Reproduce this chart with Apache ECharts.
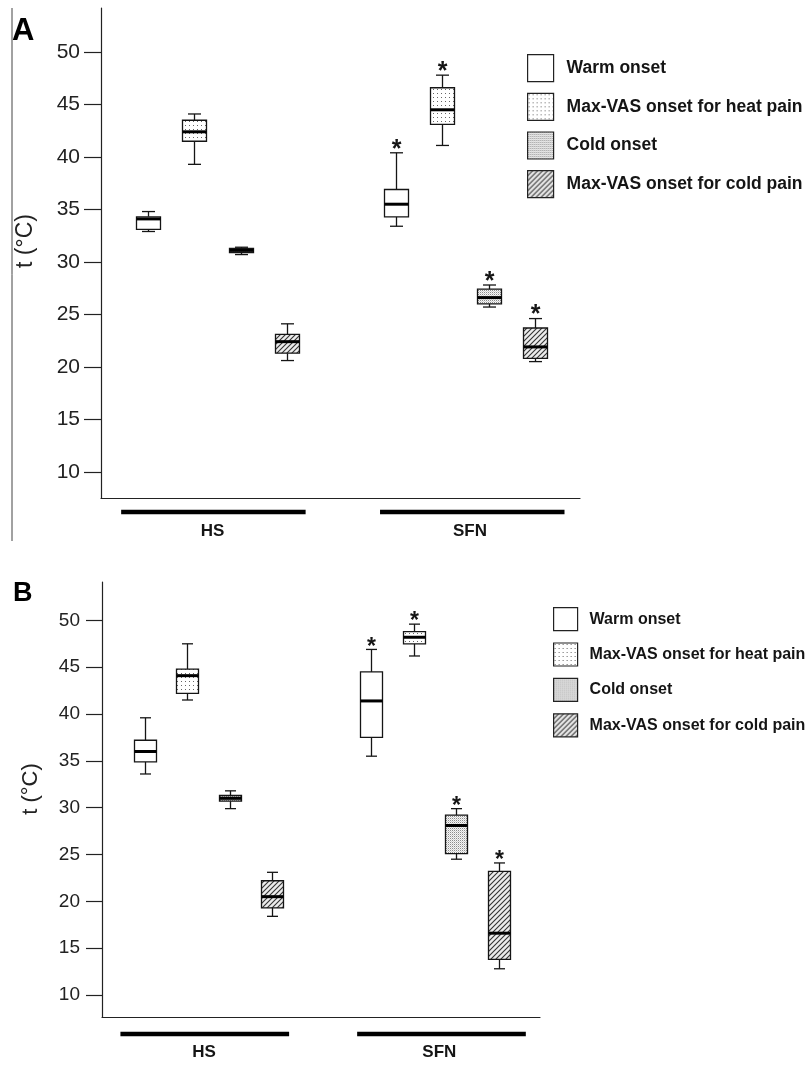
<!DOCTYPE html>
<html><head><meta charset="utf-8">
<script src="https://cdn.jsdelivr.net/npm/echarts@6/dist/echarts.min.js"></script>
<style>html,body{margin:0;padding:0;background:#fff}#c{width:809px;height:1078px}</style>
</head><body><div id="c"></div>
<script>
// ---------------- data ----------------
const groups = ['HS', 'SFN'];
const measures = ['Warm onset', 'Max-VAS onset for heat pain', 'Cold onset', 'Max-VAS onset for cold pain'];
const yTicks = [10, 15, 20, 25, 30, 35, 40, 45, 50];
// box values: [min, Q1, median, Q3, max] for HS, SFN
const A_warm     = [[32.9, 33.1, 34.1, 34.3, 34.8], [33.4, 34.3, 35.5, 36.9, 40.4]];
const A_heatPain = [[39.3, 41.5, 42.4, 43.5, 44.1], [41.1, 43.1, 44.5, 46.6, 47.8]];
const A_cold     = [[30.7, 30.9, 31.1, 31.3, 31.4], [25.7, 26.0, 26.6, 27.4, 27.8]];
const A_coldPain = [[20.6, 21.3, 22.4, 23.1, 24.1], [20.5, 20.8, 21.9, 23.7, 24.6]];
const B_warm     = [[33.6, 34.9, 36.0, 37.2, 39.6], [35.5, 37.5, 41.4, 44.5, 46.9]];
const B_heatPain = [[41.5, 42.2, 44.1, 44.8, 47.5], [46.2, 47.5, 48.2, 48.8, 49.6]];
const B_cold     = [[29.9, 30.7, 31.0, 31.3, 31.8], [24.5, 25.1, 28.1, 29.2, 29.9]];
const B_coldPain = [[18.4, 19.3, 20.5, 22.2, 23.1], [12.8, 13.8, 16.6, 23.2, 24.1]];
// significance marks (*) per group
const significant = [false, true];
const panelLetters = ['A', 'B'];
const yTitle = 't (°C)';

// ---------------- styling / layout ----------------
const FONT = '"Liberation Sans", Arial, sans-serif';
const INK = '#151515';

function makePattern(kind) {
  const c = document.createElement('canvas');
  const g = c.getContext('2d');
  if (kind === 'sparse') {
    c.width = c.height = 4;
    g.fillStyle = '#fff'; g.fillRect(0, 0, 4, 4);
    g.fillStyle = '#666'; g.fillRect(1, 1, 1, 1);
  } else if (kind === 'dense') {
    c.width = c.height = 2;
    g.fillStyle = '#f6f6f6'; g.fillRect(0, 0, 2, 2);
    g.fillStyle = '#8c8c8c'; g.fillRect(0, 0, 1, 1);
    g.fillStyle = '#d0d0d0'; g.fillRect(1, 1, 1, 1);
  } else {
    c.width = c.height = 5;
    g.fillStyle = '#ececec'; g.fillRect(0, 0, 5, 5);
    g.strokeStyle = '#333'; g.lineWidth = 1.1;
    g.beginPath();
    g.moveTo(0, 5); g.lineTo(5, 0);
    g.moveTo(-1, 1); g.lineTo(1, -1);
    g.moveTo(4, 6); g.lineTo(6, 4);
    g.stroke();
  }
  return { image: c, repeat: 'repeat' };
}
const fills = ['#ffffff', makePattern('sparse'), makePattern('dense'), makePattern('hatch')];

const groupStart = [3, 19];   // slot of first box in each group
const slotStep = 3;
const groupBar = [[1.3, 13.2], [18.0, 29.9]];
const groupLabelAt = [7.2, 23.8];

const panels = [
  { grid: { left: 101, top: 8, width: 479, height: 490 }, yMin: 7.5, yMax: 54.2, xMax: 30.9,
    data: [A_warm, A_heatPain, A_cold, A_coldPain],
    boxHalf: 12, capHalf: 6.5, lw: 1.3, medW: 3, starSize: 25, starGap: 3,
    tickLen: 17, labelSize: 21, labelMargin: 21,
    legend: { left: 527, top: 54, itemWidth: 26, itemHeight: 27, itemGap: 10.5, fontSize: 17.5, pad: 8 },
    barDy: 14, labelDy: 33, groupFont: 17,
    letter: { x: 12, y: 31, size: 31 }, title: { x: 26, y: 241, size: 23 } },
  { grid: { left: 102, top: 582, width: 438, height: 435 }, yMin: 7.65, yMax: 54.1, xMax: 30.9,
    data: [B_warm, B_heatPain, B_cold, B_coldPain],
    boxHalf: 11, capHalf: 5.5, lw: 1.3, medW: 3, starSize: 23, starGap: 2,
    tickLen: 16, labelSize: 19, labelMargin: 22,
    legend: { left: 553, top: 607, itemWidth: 24, itemHeight: 23, itemGap: 11.2, fontSize: 16, pad: 7 },
    barDy: 17, labelDy: 35, groupFont: 17,
    letter: { x: 13, y: 594, size: 27 }, title: { x: 31, y: 789, size: 22 } }
];

function makeRender(p, fill) {
  return function (params, api) {
    const x = api.value(0);
    const pMin = api.coord([x, api.value(1)]);
    const pQ1 = api.coord([x, api.value(2)]);
    const pMed = api.coord([x, api.value(3)]);
    const pQ3 = api.coord([x, api.value(4)]);
    const pMax = api.coord([x, api.value(5)]);
    const cx = Math.round(pMed[0]) + 0.5;
    const hw = p.boxHalf, cw = p.capHalf;
    const ls = { stroke: INK, lineWidth: p.lw };
    const children = [
      { type: 'line', shape: { x1: cx, y1: pMax[1], x2: cx, y2: pQ3[1] }, style: ls },
      { type: 'line', shape: { x1: cx, y1: pQ1[1], x2: cx, y2: pMin[1] }, style: ls },
      { type: 'line', shape: { x1: cx - cw, y1: pMax[1], x2: cx + cw, y2: pMax[1] }, style: ls },
      { type: 'line', shape: { x1: cx - cw, y1: pMin[1], x2: cx + cw, y2: pMin[1] }, style: ls },
      { type: 'rect', shape: { x: cx - hw, y: pQ3[1], width: 2 * hw, height: pQ1[1] - pQ3[1] },
        style: { fill: fill, stroke: INK, lineWidth: p.lw } },
      { type: 'line', shape: { x1: cx - hw, y1: pMed[1], x2: cx + hw, y2: pMed[1] },
        style: { stroke: '#000', lineWidth: p.medW } }
    ];
    if (api.value(6)) {
      children.push({ type: 'text', x: cx, y: pMax[1] - p.starGap,
        style: { text: '*', fontSize: p.starSize, fontWeight: 'bold', fontFamily: FONT, fill: INK, align: 'center', verticalAlign: 'middle' } });
    }
    return { type: 'group', children: children };
  };
}

const option = {
  animation: false,
  backgroundColor: '#fff',
  grid: panels.map(p => Object.assign({ containLabel: false }, p.grid)),
  xAxis: panels.map((p, i) => ({
    type: 'value', gridIndex: i, min: 0, max: p.xMax,
    axisLine: { show: true, onZero: false, lineStyle: { color: '#222', width: 1.2 } },
    axisTick: { show: false }, axisLabel: { show: false }, splitLine: { show: false }
  })),
  yAxis: panels.map((p, i) => ({
    type: 'value', gridIndex: i, min: p.yMin, max: p.yMax,
    axisLine: { show: true, onZero: false, lineStyle: { color: '#222', width: 1.2 } },
    axisTick: { show: true, length: p.tickLen, customValues: yTicks, lineStyle: { color: '#222', width: 1.2 } },
    axisLabel: { show: true, customValues: yTicks, margin: p.labelMargin, fontSize: p.labelSize, fontFamily: FONT, color: '#222' },
    splitLine: { show: false }
  })),
  legend: panels.map(p => ({
    orient: 'vertical', left: p.legend.left, top: p.legend.top, padding: 0,
    itemWidth: p.legend.itemWidth, itemHeight: p.legend.itemHeight, itemGap: p.legend.itemGap,
    icon: 'rect', selectedMode: false, data: measures,
    itemStyle: { borderColor: '#222', borderWidth: 1.2 },
    textStyle: { fontSize: p.legend.fontSize, fontWeight: 'bold', fontFamily: FONT, color: INK, padding: [0, 0, 0, p.legend.pad] }
  })),
  series: []
};

panels.forEach((p, pi) => {
  measures.forEach((m, mi) => {
    option.series.push({
      type: 'custom', name: m, xAxisIndex: pi, yAxisIndex: pi, silent: true,
      itemStyle: { color: fills[mi], borderColor: INK, borderWidth: 1.2 },
      encode: { x: 0, y: [1, 2, 3, 4, 5] },
      renderItem: makeRender(p, fills[mi]),
      data: groups.map((g, gi) => [groupStart[gi] + mi * slotStep].concat(p.data[mi][gi], [significant[gi] ? 1 : 0]))
    });
  });
});

const chart = echarts.init(document.getElementById('c'), null, { renderer: 'canvas' });
chart.setOption(option);

const gfx = [
  { type: 'line', shape: { x1: 12, y1: 8, x2: 12, y2: 541 }, style: { stroke: '#444', lineWidth: 1 } }
];
panels.forEach((p, pi) => {
  const yBase = p.grid.top + p.grid.height;
  groups.forEach((g, gi) => {
    const x1 = chart.convertToPixel({ xAxisIndex: pi }, groupBar[gi][0]);
    const x2 = chart.convertToPixel({ xAxisIndex: pi }, groupBar[gi][1]);
    const xl = chart.convertToPixel({ xAxisIndex: pi }, groupLabelAt[gi]);
    gfx.push({ type: 'line', shape: { x1: x1, y1: yBase + p.barDy, x2: x2, y2: yBase + p.barDy }, style: { stroke: '#000', lineWidth: 4.5 } });
    gfx.push({ type: 'text', x: xl, y: yBase + p.labelDy, style: { text: g, fontSize: p.groupFont, fontWeight: 'bold', fontFamily: FONT, fill: INK, align: 'center', verticalAlign: 'middle' } });
  });
  gfx.push({ type: 'text', x: p.letter.x, y: p.letter.y, style: { text: panelLetters[pi], fontSize: p.letter.size, fontWeight: 'bold', fontFamily: FONT, fill: '#000', align: 'left', verticalAlign: 'middle' } });
  gfx.push({ type: 'text', x: p.title.x, y: p.title.y, rotation: Math.PI / 2, style: { text: yTitle, fontSize: p.title.size, fontFamily: FONT, fill: '#222', align: 'center', verticalAlign: 'middle' } });
});
chart.setOption({ graphic: gfx });
</script>
</body></html>
